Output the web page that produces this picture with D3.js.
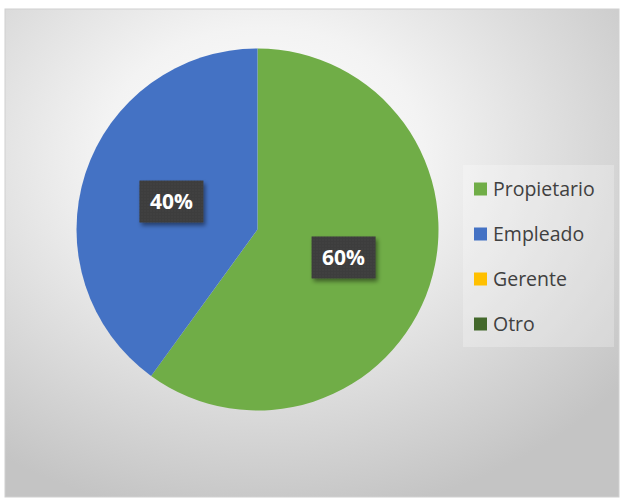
<!DOCTYPE html>
<html><head><meta charset="utf-8">
<script src="https://cdn.jsdelivr.net/npm/d3@7"></script>
<style>body{margin:0;background:#fff}svg{display:block}</style>
</head><body>
<script>
const categories = ["Propietario","Empleado","Gerente","Otro"];
const values = [60,40,0,0];
const labels = ["60%","40%","",""];
const colors = ["#70ad47","#4472c4","#ffc000","#43682b"];

const W=623,H=502;
const svg=d3.select("body").append("svg").attr("width",W).attr("height",H);
const defs=svg.append("defs");
const rg=defs.append("radialGradient").attr("id","bg").attr("cx","0.42").attr("cy","0.3").attr("r","0.75");
rg.append("stop").attr("offset","0").attr("stop-color","#ffffff");
rg.append("stop").attr("offset","0.35").attr("stop-color","#f3f3f3");
rg.append("stop").attr("offset","1").attr("stop-color","#c4c4c4");
const f=defs.append("filter").attr("id","sh").attr("x","-20%").attr("y","-20%").attr("width","150%").attr("height","160%");
f.append("feDropShadow").attr("dx",2).attr("dy",3).attr("stdDeviation",2).attr("flood-color","#000").attr("flood-opacity",0.45);
const pat=defs.append("pattern").attr("id","dots").attr("width",3).attr("height",3).attr("patternUnits","userSpaceOnUse");
pat.append("rect").attr("width",3).attr("height",3).attr("fill","#3c3c3c");
pat.append("rect").attr("width",1).attr("height",1).attr("fill","#4a4a4a");

svg.append("rect").attr("x",5).attr("y",9).attr("width",614).attr("height",488).attr("fill","url(#bg)").attr("stroke","#d0d0d0");

const cx=257.5,cy=229.5,R=181;
const pie=d3.pie().sort(null).value(d=>d)(values);
const arc=d3.arc().innerRadius(0).outerRadius(R);
const g=svg.append("g").attr("transform",`translate(${cx},${cy})`);
g.selectAll("path").data(pie).join("path").attr("d",arc).attr("fill",(d,i)=>colors[i]);

const larc=d3.arc().innerRadius(R*0.5).outerRadius(R*0.5);
pie.forEach((d,i)=>{
  if(!values[i])return;
  const [x,y]=larc.centroid(d);
  const lg=g.append("g").attr("transform",`translate(${x},${y})`);
  lg.append("rect").attr("x",-32).attr("y",-21).attr("width",64).attr("height",42).attr("fill","url(#dots)").attr("filter","url(#sh)");
  lg.append("text").attr("text-anchor","middle").attr("dy","0.36em").attr("font-family","Open Sans, sans-serif").attr("font-weight","bold").attr("font-size",21).attr("fill","#fff").text(labels[i]);
});

svg.append("rect").attr("x",463).attr("y",165).attr("width",151).attr("height",182).attr("fill","#ffffff").attr("opacity",0.25);
const lgd=svg.append("g");
categories.forEach((c,i)=>{
  const y=189+i*45;
  lgd.append("rect").attr("x",474).attr("y",y-6.5).attr("width",13).attr("height",13).attr("fill",colors[i]);
  lgd.append("text").attr("x",493).attr("y",y).attr("dy","0.35em").attr("font-family","Open Sans, sans-serif").attr("font-size",19.5).attr("fill","#404040").text(c);
});
</script>
</body></html>
